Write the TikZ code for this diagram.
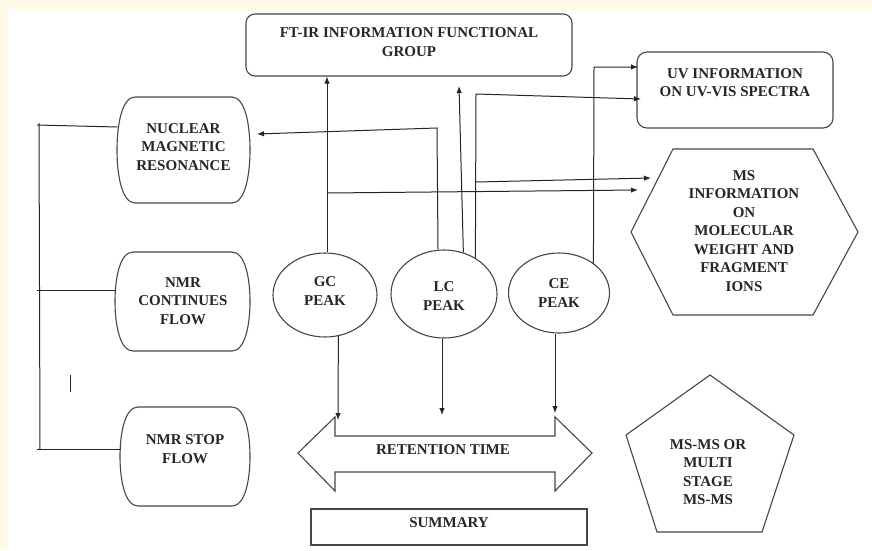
\documentclass[tikz,border=0pt]{standalone}
\usepackage{fontspec}
\setmainfont{Liberation Serif}
\usetikzlibrary{arrows.meta,shapes.geometric,calc}
\definecolor{cream}{RGB}{255,251,232}
\definecolor{ink}{RGB}{38,38,38}
\definecolor{edge}{RGB}{70,70,70}
\newcommand{\nmrcapsule}[4]{% x1 y1 x2 y2
  \draw[shp] ({#1+18},#2) -- ({#3-18},#2)
    .. controls ({#3-5},#2) and (#3,{#2+0.26*(#4-#2)}) .. (#3,{(#2+#4)/2})
    .. controls (#3,{#4-0.26*(#4-#2)}) and ({#3-5},#4) .. ({#3-18},#4)
    -- ({#1+18},#4)
    .. controls ({#1+5},#4) and (#1,{#4-0.26*(#4-#2)}) .. (#1,{(#2+#4)/2})
    .. controls (#1,{#2+0.26*(#4-#2)}) and ({#1+5},#2) .. ({#1+18},#2) -- cycle;}
\begin{document}
\begin{tikzpicture}[x=1pt,y=-1pt,
  lbl/.style={font=\fontsize{15}{18.5}\selectfont\bfseries, text=ink, align=center, inner sep=0pt},
  shp/.style={draw=edge, line width=1.1pt},
  con/.style={draw=ink, line width=1pt},
  arr/.style={con, -{Latex[length=7pt,width=5.5pt]}}]
\fill[cream] (0,0) rectangle (872,550);
\fill[white] (8,11) rectangle (872,550);
\useasboundingbox (0,0) rectangle (872,550);

% ---- boxes ----
\node[shp, rounded corners=9pt, minimum width=326pt, minimum height=62pt, inner sep=0pt] (ftir) at (409,45) {};
\node[lbl] (ftirt) at (409,42) {FT-IR INFORMATION FUNCTIONAL\\GROUP};

\node[shp, rounded corners=10pt, minimum width=196pt, minimum height=76pt, inner sep=0pt] (uv) at (735,90) {};
\node[lbl] (uvt) at (735,82.5) {UV INFORMATION\\ON UV-VIS SPECTRA};

% NMR capsules
\nmrcapsule{117}{97}{250}{203}
\node[lbl] (nmr1) at (183.5,147) {NUCLEAR\\MAGNETIC\\RESONANCE};
\nmrcapsule{115}{252}{250}{351}
\node[lbl] (nmr2) at (183,301) {NMR\\CONTINUES\\FLOW};
\nmrcapsule{120}{407}{250}{506}
\node[lbl] (nmr3) at (185,449) {NMR STOP\\FLOW};

% peaks
\node[shp, ellipse, minimum width=104pt, minimum height=84pt, inner sep=0pt] (gc) at (325,295) {};
\node[lbl] (gct) at (325,291) {GC\\PEAK};
\node[shp, ellipse, minimum width=106pt, minimum height=88pt, inner sep=0pt] (lc) at (444,294) {};
\node[lbl] (lct) at (444,296) {LC\\PEAK};
\node[shp, ellipse, minimum width=101pt, minimum height=80pt, inner sep=0pt] (ce) at (559,293) {};
\node[lbl] (cet) at (559,293) {CE\\PEAK};

% hexagon
\draw[shp] (673,149) -- (813,149) -- (858,232) -- (813,315) -- (673,315) -- (631,232) -- cycle;
\node[lbl] (ms) at (744,231) {MS\\INFORMATION\\ON\\MOLECULAR\\WEIGHT AND\\FRAGMENT\\IONS};

% pentagon
\draw[shp] (710,375) -- (794,435) -- (762,532) -- (657,532) -- (626,435) -- cycle;
\node[lbl] (msms) at (708,472) {MS-MS OR\\MULTI\\STAGE\\MS-MS};

% retention time double arrow
\draw[shp] (298,453) -- (335,417) -- (335,436) -- (555,436) -- (555,417) -- (592,453)
  -- (555,491) -- (555,472) -- (335,472) -- (335,491) -- cycle;
\node[lbl] (rt) at (443,450) {RETENTION TIME};

% summary
\node[shp, minimum width=276pt, minimum height=36pt, inner sep=0pt] (sum) at (449,527) {};
\node[lbl] (sumt) at (449,523) {SUMMARY};

% ---- connector end points ----
\coordinate (j1) at (327,193);
\coordinate (msin1) at (638,190);
\coordinate (nmrbend) at (437,128);
\coordinate (nmrin) at (257,134);
\coordinate (lcup) at (459,86);
\coordinate (lcbend) at (476,94);
\coordinate (uvin2) at (641,99);
\coordinate (j2) at (476,182);
\coordinate (msin2) at (651,178);
\coordinate (cebend) at (594,67);
\coordinate (uvin1) at (638,67);
\coordinate (rtgc) at (338,420);
\coordinate (rtlc) at (442,415);
\coordinate (rtce) at (555,413);

% ---- connectors ----
\draw[arr] ([xshift=2pt]gc.north) -- ([xshift=2pt]gc.north |- ftir.south);
\draw[arr] (j1) -- (msin1);
\draw[arr] ([xshift=-6pt]lc.north) -- (nmrbend) -- (nmrin);
\draw[arr] (lc.65) -- (lcup);
\draw[arr] (lc.49) -- (lcbend) -- (uvin2);
\draw[arr] (j2) -- (msin2);
\draw[arr] (ce.41) -- (cebend) -- (uvin1);
\draw[arr] (gc.288) -- (rtgc);
\draw[arr] ([xshift=-2pt]lc.south) -- (rtlc);
\draw[arr] ([xshift=-4pt]ce.south) -- (rtce);

% left bracket
\coordinate (b1) at (39,123);
\coordinate (b2) at (40,449);
\draw[con] (b1) -- (b2);
\draw[con] (37,125) -- (117.5,127);
\draw[con] (37,290) -- (115.5,290);
\draw[con] (37,449) -- (120.5,449);
\draw[con] (70,375) -- (70,392);
\end{tikzpicture}
\end{document}
